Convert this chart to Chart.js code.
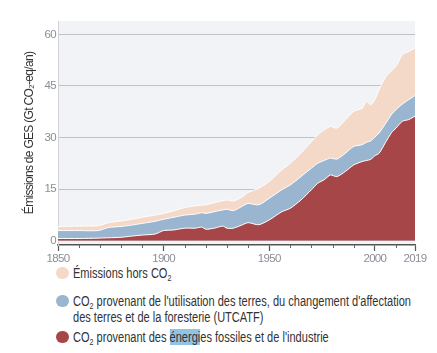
<!DOCTYPE html>
<html>
<head>
<meta charset="utf-8">
<script src="https://cdn.jsdelivr.net/npm/chart.js@4.4.0/dist/chart.umd.min.js"></script>
<style>
  body { margin: 0; background: #fff; font-family: "Liberation Sans", Arial, sans-serif; }
  #wrap { position: relative; width: 437px; height: 265px; }
  .item { position: absolute; left: 73px; font-size: 14px; line-height: 16px; color: #333; white-space: nowrap; }
  .txt { display: inline-block; transform-origin: 0 0; }
  .pastille { position: absolute; left: -17px; top: 1.8px; width: 12.5px; height: 12.5px; border-radius: 50%; }
  sub { font-size: 9px; vertical-align: -3px; line-height: 0; }
  .sel { background: #93c2e3; }
</style>
</head>
<body>
<div id="wrap"><canvas id="ges"></canvas></div>
<div class="item" style="top:265px"><span class="pastille" style="background:#f5d9c8"></span><span class="txt">Émissions hors CO<sub>2</sub></span></div>
<div class="item" style="top:293px"><span class="pastille" style="background:#9ab5d0"></span><span class="txt" id="ligneLongue">CO<sub>2</sub> provenant de l'utilisation des terres, du changement d'affectation<br>des terres et de la foresterie (UTCATF)</span></div>
<div class="item" style="top:329px"><span class="pastille" style="background:#a74648"></span><span class="txt">CO<sub>2</sub> provenant des <span class="sel">énergi</span>es fossiles et de l'industrie</span></div>
<script>
const annees = [1850, 1860, 1869, 1874, 1880, 1885, 1890, 1896, 1900, 1905, 1910, 1915, 1918, 1920, 1924, 1928, 1930, 1933, 1937, 1940, 1945, 1950, 1956, 1960, 1965, 1970, 1973, 1976, 1979, 1982, 1986, 1990, 1994, 1996, 1998, 2000, 2002, 2005, 2008, 2010, 2013, 2016, 2019];
// CO2 fossile et industrie
const fossile = [0.6, 0.6, 0.7, 0.8, 0.95, 1.3, 1.6, 1.9, 2.9, 3.1, 3.6, 3.6, 3.9, 3.3, 3.6, 4.2, 3.6, 3.6, 4.5, 5.2, 4.6, 6.0, 8.4, 9.4, 11.8, 14.8, 16.7, 17.7, 19.1, 18.6, 20.1, 22.0, 23.0, 23.3, 23.6, 24.7, 25.4, 28.5, 31.5, 32.7, 34.7, 35.2, 36.2];
// CO2 UTCATF
const utcatf = [2.3, 2.3, 2.2, 3.0, 3.15, 3.2, 3.4, 3.7, 3.3, 3.7, 3.8, 4.1, 4.2, 4.6, 4.8, 4.7, 5.5, 5.1, 5.4, 5.6, 5.8, 6.3, 6.4, 6.8, 6.8, 6.3, 5.8, 5.6, 4.9, 5.1, 5.3, 5.4, 4.9, 5.3, 5.4, 5.4, 5.9, 5.5, 5.3, 5.4, 5.0, 5.8, 6.0];
// hors CO2
const horsCO2 = [1.2, 1.3, 1.4, 1.4, 1.6, 1.7, 1.8, 1.8, 1.7, 1.9, 2.2, 2.4, 2.2, 2.5, 2.6, 2.7, 2.7, 2.8, 2.7, 3.2, 4.8, 4.9, 5.8, 6.3, 6.8, 7.7, 8.3, 8.9, 9.2, 9.0, 9.7, 10.2, 10.6, 11.9, 10.5, 10.9, 12.6, 13.5, 12.7, 12.6, 14.4, 14.0, 13.8];

const yTicks = [0, 15, 30, 45, 60];
const xTicks = [1850, 1900, 1950, 2000, 2019];
const xTicksMineurs = [1860, 1870, 1880, 1890, 1910, 1920, 1930, 1940, 1960, 1970, 1980, 1990, 2010];

// legende : texte resserre comme une police etroite
const facteur = 338 / document.getElementById('ligneLongue').getBoundingClientRect().width;
document.querySelectorAll('.txt').forEach(t => { t.style.transform = 'scaleX(' + facteur + ')'; });

function serie(valeurs) {
  return annees.map((a, i) => ({ x: a, y: valeurs[i] }));
}

const etroit = {
  id: 'etroit',
  beforeLayout(chart) { chart.ctx.letterSpacing = '-0.7px'; },
  beforeDraw(chart) { chart.ctx.letterSpacing = '-0.7px'; }
};

const fondPlugin = {
  id: 'fond',
  beforeDraw(chart) {
    const { ctx, chartArea: a } = chart;
    ctx.save();
    ctx.fillStyle = '#f2f3f6';
    ctx.fillRect(a.left, a.top, a.right - a.left, a.bottom - a.top);
    ctx.restore();
  },
  afterDraw(chart) {
    const { ctx, chartArea: a } = chart;
    const x = chart.scales.x;
    ctx.save();
    ctx.strokeStyle = '#666';
    ctx.lineWidth = 1;
    xTicksMineurs.forEach(v => {
      const px = Math.round(x.getPixelForValue(v)) + 0.5;
      ctx.beginPath();
      ctx.moveTo(px, a.bottom);
      ctx.lineTo(px, a.bottom + 3);
      ctx.stroke();
    });
    ctx.restore();
  }
};

const commun = { borderColor: '#ffffff', borderWidth: 1, pointRadius: 0, tension: 0.25 };

Chart.defaults.font.family = '"Liberation Sans", Arial, sans-serif';

new Chart(document.getElementById('ges'), {
  type: 'line',
  data: {
    datasets: [
      { ...commun, label: 'CO₂ fossile', data: serie(fossile), backgroundColor: '#a74648', fill: 'origin' },
      { ...commun, label: 'CO₂ UTCATF', data: serie(utcatf), backgroundColor: '#9ab5d0', fill: '-1' },
      { ...commun, label: 'Émissions hors CO₂', data: serie(horsCO2), backgroundColor: '#f5d9c8', fill: '-1' }
    ]
  },
  options: {
    responsive: true,
    maintainAspectRatio: false,
    animation: false,
    layout: { padding: { top: 21, right: 22, left: 0, bottom: 0 } },
    plugins: { legend: { display: false }, tooltip: { enabled: false } },
    scales: {
      x: {
        type: 'linear',
        min: 1850,
        max: 2019,
        afterBuildTicks: s => { s.ticks = xTicks.map(v => ({ value: v })); },
        afterFit: s => { s.height = 20; },
        grid: { drawOnChartArea: false, tickLength: 6, tickColor: '#555', tickWidth: 1.2 },
        border: { color: '#555', width: 1.5 },
        ticks: { callback: v => String(v), color: '#8a8f96', padding: 1, maxRotation: 0, autoSkip: false, font: { size: 11.5 } }
      },
      y: {
        stacked: true,
        min: -1.3,
        max: 63.9,
        z: 1,
        afterBuildTicks: s => { s.ticks = yTicks.map(v => ({ value: v })); },
        afterFit: s => { s.width = 58; },
        grid: { color: 'rgba(175,178,184,0.75)', drawTicks: false },
        border: { color: '#d0d2d6', width: 1 },
        ticks: { color: '#8a8f96', padding: 2, font: { size: 11.5 } },
        title: { display: true, text: 'Émissions de GES (Gt CO₂-eq/an)', color: '#333', font: { size: 12 }, padding: { top: 22, bottom: 0 } }
      }
    }
  },
  plugins: [etroit, fondPlugin]
});
</script>
</body>
</html>
